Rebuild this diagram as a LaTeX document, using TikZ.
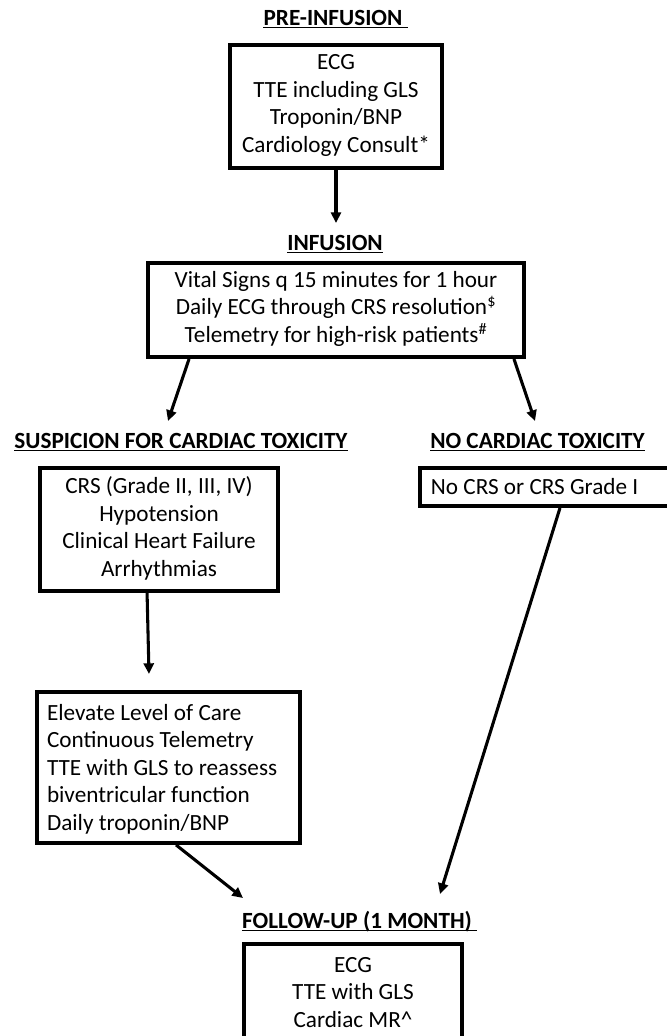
\documentclass[tikz,border=0pt]{standalone}
\usepackage{fontspec}
\setmainfont{Carlito}
\usetikzlibrary{arrows.meta}
\newlength\pxu \setlength\pxu{0.75pt}
\begin{document}
\begin{tikzpicture}[x=0.75pt,y=-0.75pt,
  font=\fontsize{17.4}{20.6}\selectfont,
  box/.style={draw,line width=2.9pt,inner sep=0pt,align=center,
    execute at begin node={\rule{0pt}{0.952em}},
    execute at end node={\rule[-0.269em]{0pt}{0.269em}}},
  title/.style={font=\fontsize{17.4}{20.6}\selectfont\bfseries,inner sep=0pt,anchor=base},
  uline/.style={line width=1.1pt},
  arr/.style={line width=2.3pt,-{Triangle[length=8pt,width=7.5pt]}}]
\useasboundingbox (0,0) rectangle (667,1036);
\clip (0,0) rectangle (667,1036);

% titles
\node[title] (t1) at (333,25) {PRE-INFUSION};
\node[title] (t2) at (335,250) {INFUSION};
\node[title] (t3) at (181,448) {SUSPICION FOR CARDIAC TOXICITY};
\node[title] (t4) at (537.5,448) {NO CARDIAC TOXICITY};
\node[title] (t5) at (357,928) {FOLLOW-UP (1 MONTH)};
\draw[uline] ([yshift=-2.5\pxu]t1.base west) -- ([xshift=5\pxu,yshift=-2.5\pxu]t1.base east);
\draw[uline] ([yshift=-2.5\pxu]t2.base west) -- ([yshift=-2.5\pxu]t2.base east);
\draw[uline] ([yshift=-2.5\pxu]t3.base west) -- ([yshift=-2.5\pxu]t3.base east);
\draw[uline] ([yshift=-2.5\pxu]t4.base west) -- ([yshift=-2.5\pxu]t4.base east);
\draw[uline] ([yshift=-2.5\pxu]t5.base west) -- ([xshift=5\pxu,yshift=-2.5\pxu]t5.base east);

% boxes
\node[box,minimum width=212\pxu,minimum height=123\pxu] (b1) at (336,106.5)
  {ECG\\TTE including GLS\\Troponin/BNP\\Cardiology Consult*};
\node[box,minimum width=376\pxu,minimum height=94\pxu] (b2) at (336,310)
  {Vital Signs q 15 minutes for 1 hour\\Daily ECG through CRS resolution\textsuperscript{\$}\\Telemetry for high-risk patients\textsuperscript{\#}};
\node[box,minimum width=238\pxu,minimum height=123\pxu] (b3) at (159,529.5)
  {CRS (Grade II, III, IV)\\Hypotension\\Clinical Heart Failure\\Arrhythmias};
\node[box,anchor=west,align=flush left,text width=280\pxu,inner xsep=11\pxu,minimum height=38\pxu] (b4) at (418,487)
  {No CRS or CRS Grade I};
\node[box,align=flush left,text width=243\pxu,inner xsep=10\pxu,minimum height=151\pxu] (b5) at (168.5,767.5)
  {Elevate Level of Care\\Continuous Telemetry\\TTE with GLS to reassess\\biventricular function\\Daily troponin/BNP};
\node[inner xsep=0pt,inner ysep=13\pxu,align=center,anchor=north,minimum width=218\pxu] (b6) at (353,944)
  {ECG\\TTE with GLS\\Cardiac MR\^{}};
\draw[line width=2.9pt] (b6.north west) ++(0,150) -- (b6.north west) -- (b6.north east) -- ++(0,150);

% connectors
\coordinate (c1) at (336,223);
\coordinate (c2) at (168,421);
\coordinate (c3) at (535,421);
\coordinate (c4) at (149,674);
\coordinate (c5) at (243,898);
\coordinate (c6) at (440,894);
\draw[arr] (b1.south) -- (c1);
\draw[arr] ([xshift=43\pxu]b2.south west) -- (c2);
\draw[arr] ([xshift=-12\pxu]b2.south east) -- (c3);
\draw[arr] ([xshift=109\pxu]b3.south west) -- (c4);
\draw[arr] ([xshift=141\pxu]b5.south west) -- (c5);
\draw[arr] ([xshift=142\pxu]b4.south west) -- (c6);
\end{tikzpicture}
\end{document}
